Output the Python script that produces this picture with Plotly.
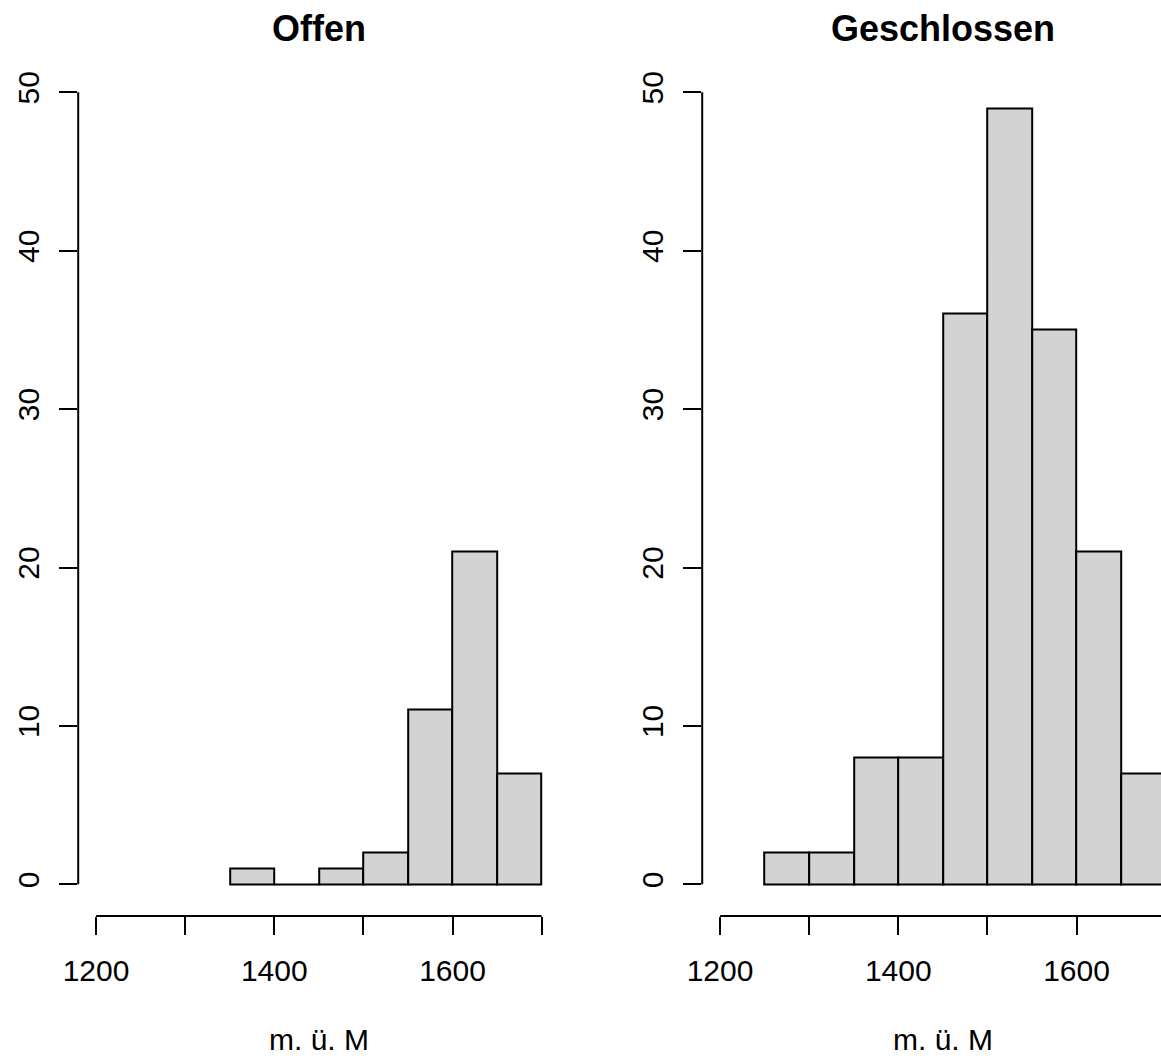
import plotly.graph_objects as go

# ---------------- data ----------------
bin_width = 50
offen_left = [1350, 1400, 1450, 1500, 1550, 1600, 1650]
offen_counts = [1, 0, 1, 2, 11, 21, 7]
geschl_left = [1250, 1300, 1350, 1400, 1450, 1500, 1550, 1600, 1650]
geschl_counts = [2, 2, 8, 8, 36, 49, 35, 21, 7]
titles = ["Offen", "Geschlossen"]
x_label = "m. ü. M"
x_tickvals = [1200, 1300, 1400, 1500, 1600, 1700]
x_ticktext = ["1200", "", "1400", "", "1600", ""]
y_tickvals = [0, 10, 20, 30, 40, 50]
x_axis_span = [1200, 1700]
y_axis_span = [0, 50]

# ---------------- layout geometry (pixels) ----------------
W, H = 1161, 1059
FONT = "Liberation Sans, Arial, Helvetica, sans-serif"
left_px = (78.2, 559.5)
right_px = (702.2, 1161.0)
top_px, bottom_px = 60.6, 916.0
px_per_unit = (left_px[1] - left_px[0]) / 540.0
right_range_max = 1180 + (right_px[1] - right_px[0]) / px_per_unit

def xd(p):
    return [p[0] / W, p[1] / W]

ydom = [(H - bottom_px) / H, (H - top_px) / H]

fig = go.Figure()

def add_hist(lefts, counts, xa, ya):
    fig.add_trace(go.Bar(
        x=[l + bin_width / 2 for l in lefts],
        y=counts,
        width=bin_width,
        marker=dict(color="#D3D3D3", line=dict(color="black", width=2)),
        xaxis=xa, yaxis=ya, showlegend=False,
        hoverinfo="x+y",
    ))

add_hist(offen_left, offen_counts, "x", "y")
add_hist(geschl_left, geschl_counts, "x2", "y2")

axis_common_x = dict(
    tickvals=x_tickvals, ticktext=x_ticktext, ticks="outside", ticklen=18,
    tickwidth=2, tickcolor="black", showline=False, showgrid=False,
    zeroline=False, tickfont=dict(family=FONT, size=30, color="black"),
    ticklabelstandoff=10, automargin=False, fixedrange=True,
)
axis_common_y = dict(
    range=[-2, 52], tickvals=y_tickvals, ticks="outside", ticklen=18,
    tickwidth=2, tickcolor="black", showline=False, showgrid=False,
    zeroline=False, tickfont=dict(family=FONT, size=30, color="black"),
    tickangle=-90, ticklabelstandoff=8, automargin=False, fixedrange=True,
    domain=ydom,
)

fig.update_layout(
    width=W, height=H,
    margin=dict(l=0, r=0, t=0, b=0),
    paper_bgcolor="white", plot_bgcolor="white",
    bargap=0, showlegend=False,
    xaxis=dict(domain=xd(left_px), range=[1180, 1720], anchor="y", **axis_common_x),
    yaxis=dict(anchor="x", **axis_common_y),
    xaxis2=dict(domain=xd(right_px), range=[1180, right_range_max], anchor="y2", **axis_common_x),
    yaxis2=dict(anchor="x2", **axis_common_y),
)

# R-style axis lines spanning only the tick range
shapes = []
for xa, ya in (("x", "y"), ("x2", "y2")):
    shapes.append(dict(type="line", xref=xa, yref=ya + " domain",
                       x0=x_axis_span[0], x1=x_axis_span[1], y0=0, y1=0,
                       line=dict(color="black", width=2)))
    shapes.append(dict(type="line", xref=xa + " domain", yref=ya,
                       x0=0, x1=0, y0=y_axis_span[0], y1=y_axis_span[1],
                       line=dict(color="black", width=2)))
fig.update_layout(shapes=shapes)

# titles and x-axis labels
centers = [(left_px[0] + left_px[1]) / 2, (right_px[0] + 1183.0) / 2]
annotations = []
for cx, t in zip(centers, titles):
    annotations.append(dict(text="<b>" + t + "</b>", x=cx / W, y=(H - 29) / H,
                            xref="paper", yref="paper", xanchor="center", yanchor="middle",
                            showarrow=False, font=dict(family=FONT, size=36, color="black")))
    annotations.append(dict(text=x_label, x=cx / W, y=(H - 1039) / H,
                            xref="paper", yref="paper", xanchor="center", yanchor="middle",
                            showarrow=False, font=dict(family=FONT, size=30, color="black")))
fig.update_layout(annotations=annotations)

fig.write_html("out.html")
